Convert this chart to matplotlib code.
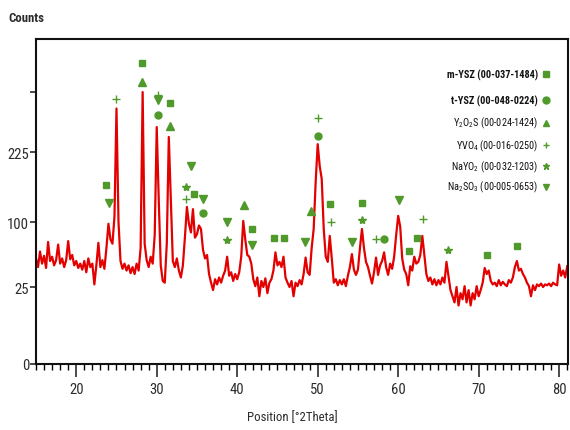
import numpy as np
import matplotlib
matplotlib.use("Agg")
from matplotlib import pyplot as plt
from matplotlib import font_manager

# measured pattern, 0.25 deg steps from 15 to 81 deg 2theta
two_theta = np.arange(15.0, 81.01, 0.25)
counts = [
    58, 48, 66, 52,   61, 47, 77, 55,   60, 50, 56, 74,   52, 58, 48, 56,
    78, 57, 62, 50,   55, 47, 52, 45,   55, 42, 58, 48,   52, 28, 50, 76,
    48, 56, 46, 70,   98, 80, 75, 110,  352, 100, 55, 46, 52, 44, 50, 41,
    48, 40, 52, 44,   70, 400, 75, 56,  48, 60, 52, 85,   298, 140, 50, 32,
    30, 75, 269, 140, 55, 48, 58, 44,   36, 50, 82, 127,  98, 88, 123, 82,
    86, 96, 92, 68,   58, 62, 40, 30,   24, 34, 28, 36,   30, 38, 44, 60,
    38, 42, 32, 40,   34, 42, 60, 102,  80, 62, 60, 52,   34, 26, 36, 22,
    32, 25, 35, 23,   30, 34, 44, 65,   50, 54, 48, 60,   36, 30, 25, 32,
    22, 30, 26, 33,   28, 40, 59, 42,   39, 70, 92, 172,  248, 200, 177, 92,
    60, 54, 84, 58,   30, 34, 27, 33,   28, 34, 26, 38,   48, 63, 45, 39,
    45, 70, 92, 70,   54, 48, 38, 29,   42, 59, 39, 50,   55, 65, 48, 39,
    52, 46, 60, 85,   111, 95, 58, 45,  40, 27, 49, 44,   60, 52, 54, 62,
    84, 62, 40, 32,   36, 28, 34, 27,   33, 28, 36, 30,   54, 38, 24, 22,
    20, 25, 19, 23,   21, 26, 20, 24,   19, 23, 21, 26,   22, 24, 30, 47,
    40, 44, 32, 28,   30, 26, 33, 27,   31, 28, 26, 33,   30, 36, 48, 55,
    44, 46, 40, 36,   30, 26, 22, 27,   24, 28, 26, 29,   25, 28, 27, 29,
    26, 30, 28, 27,   51, 38, 44, 36,   49,
]

# phase markers (2theta, counts)
m_ysz_x = [23.7, 28.2, 31.6, 34.6, 41.8, 44.6, 45.8, 51.5, 55.5, 61.3, 62.3, 71.0, 74.8]
m_ysz_y = [166, 509, 368, 150, 92, 81, 81, 132, 134, 67, 81, 62, 72]
t_ysz_x = [30.1, 35.7, 50.1, 58.3]
t_ysz_y = [333, 116, 272, 80]
y2o2s_x = [28.2, 31.6, 40.8, 49.2]
y2o2s_y = [437, 301, 130, 120]
yvo4_x = [25.0, 30.1, 33.6, 50.1, 51.6, 57.3, 63.1]
yvo4_y = [380, 392, 141, 324, 100, 80, 106]
naYo2_x = [33.6, 38.7, 55.5, 66.2]
naYo2_y = [162, 79, 104, 68]
na2so3_x = [24.1, 30.1, 34.2, 35.7, 38.7, 41.8, 48.4, 54.3, 60.1]
na2so3_y = [134, 376, 200, 141, 100, 73, 77, 77, 139]

phase_labels = [
    "m-YSZ (00-037-1484)",
    "t-YSZ (00-048-0224)",
    "Y$_2$O$_2$S (00-024-1424)",
    "YVO$_4$ (00-016-0250)",
    "NaYO$_2$ (00-032-1203)",
    "Na$_2$SO$_3$ (00-005-0653)",
]

y_ticks = [0, 25, 100, 225, 400]
y_tick_labels = ["0", "25", "100", "225", ""]

# the printed y axis is roughly square-root; follow the tick spacing of the picture
scale_counts = [0, 25, 100, 225, 400, 625]
scale_pos = [0, 77, 142, 212, 272, 332]


def forward(v):
    return np.interp(v, scale_counts, scale_pos)


def inverse(p):
    return np.interp(p, scale_pos, scale_counts)


# narrow font if there is one, else Arial-like
installed = {f.name for f in font_manager.fontManager.ttflist}
fonts = [f for f in ["Liberation Sans Narrow", "Roboto Condensed", "Liberation Sans"] if f in installed]
fonts.append("DejaVu Sans")
narrow = fonts[0] in ("Liberation Sans Narrow", "Roboto Condensed")
plt.rcParams["font.family"] = fonts
plt.rcParams["mathtext.fontset"] = "custom"
plt.rcParams["mathtext.rm"] = fonts[0]
plt.rcParams["mathtext.it"] = fonts[0]
plt.rcParams["mathtext.bf"] = fonts[0] + ":bold"

green = "#4f9a2b"
text_col = "#2b2b2b"
leg_size = 7.4 if narrow else 6.5
lab_size = 10.5 if narrow else 9.5
title_size = 9.2 if narrow else 8.2

fig = plt.figure(figsize=(5.7, 4.31), dpi=100)
ax = fig.add_axes([36 / 570, 1 - 365 / 431, 532 / 570, 325 / 431])
ax.set_yscale("function", functions=(forward, inverse))

ax.plot(two_theta, counts, color="#e30000", lw=1.6)

mk = dict(color=green, linestyle="none", clip_on=False)
ax.plot(m_ysz_x, m_ysz_y, marker="s", markersize=5, **mk)
ax.plot(t_ysz_x, t_ysz_y, marker="o", markersize=5, **mk)
ax.plot(y2o2s_x, y2o2s_y, marker="^", markersize=5.5, **mk)
ax.plot(yvo4_x, yvo4_y, marker="+", markersize=6, markeredgewidth=1, **mk)
ax.plot(naYo2_x, naYo2_y, marker="*", markersize=6, **mk)
ax.plot(na2so3_x, na2so3_y, marker="v", markersize=5.5, **mk)

# legend drawn by hand: text right-aligned, marker after it
leg_y = [0.892, 0.812, 0.742, 0.674, 0.609, 0.545]
leg_marker = ["s", "o", "^", "+", "*", "v"]
for i, label in enumerate(phase_labels):
    weight = "bold" if i < 2 else "normal"
    ax.text(0.944, leg_y[i], label, transform=ax.transAxes, ha="right", va="center",
            fontsize=leg_size, color="#111111", fontweight=weight)
    ax.plot([0.958], [leg_y[i]], marker=leg_marker[i], color=green, markersize=5,
            transform=ax.transAxes, linestyle="none")

ax.set_xlim(15, 81.1)
ax.set_ylim(0, 599)
ax.set_xticks(np.arange(20, 81, 10))
ax.set_xticks(np.arange(15, 82, 1), minor=True)
ax.set_yticks(y_ticks)
ax.set_yticklabels(y_tick_labels)
ax.yaxis.set_minor_locator(matplotlib.ticker.NullLocator())

ax.tick_params(axis="x", which="major", length=9, width=1.2, direction="out",
               labelsize=lab_size, colors=text_col, pad=4)
ax.tick_params(axis="x", which="minor", length=4.5, width=1.0, direction="out")
ax.tick_params(axis="y", which="major", length=4, width=1.2, direction="out",
               labelsize=lab_size, colors=text_col, pad=1)
for side in ["top", "bottom", "left", "right"]:
    ax.spines[side].set_linewidth(1.5)
    ax.spines[side].set_color("#111111")

fig.text(8 / 570, 1 - 18 / 431, "Counts", ha="left", va="center", fontsize=title_size,
         color=text_col, fontweight="bold")
fig.text(292 / 570, 1 - 418 / 431, "Position [°2Theta]", ha="center", va="center",
         fontsize=title_size, color=text_col)

fig.savefig("out.png", dpi=100)
